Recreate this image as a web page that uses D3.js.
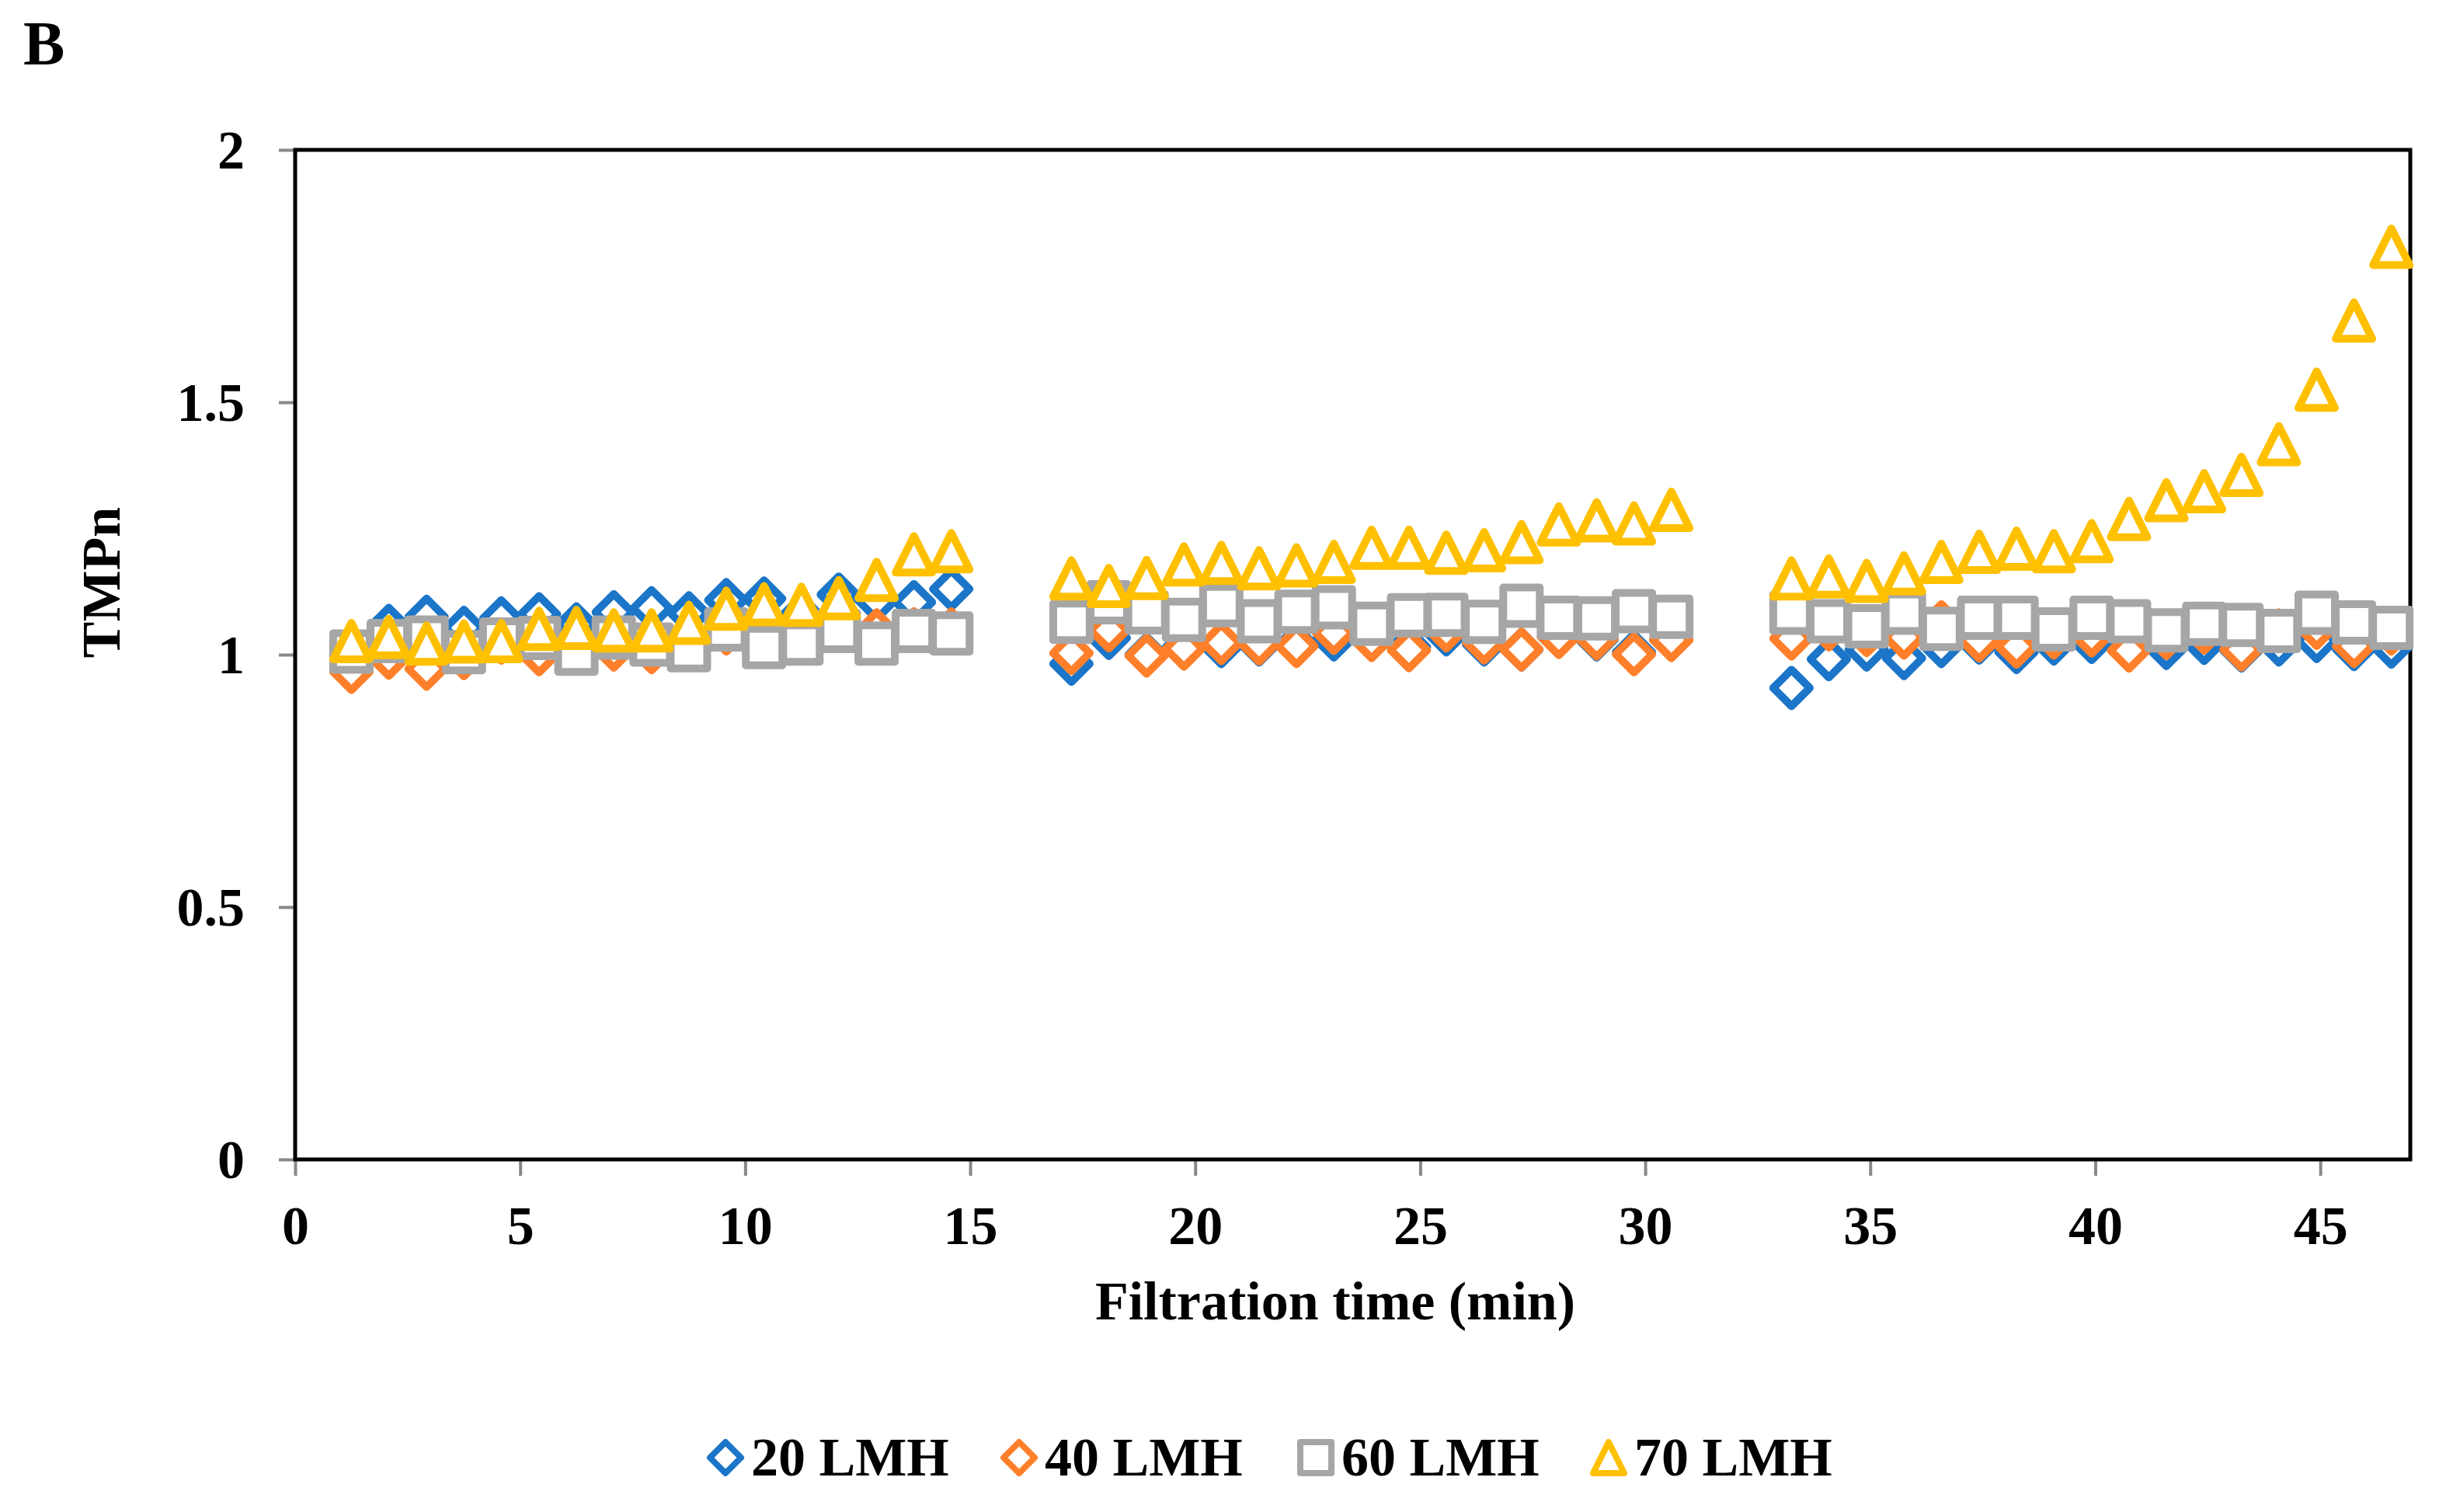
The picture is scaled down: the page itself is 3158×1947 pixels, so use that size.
<!DOCTYPE html>
<html>
<head>
<meta charset="utf-8">
<script src="https://cdn.jsdelivr.net/npm/d3@7"></script>
<style>
  html, body { margin: 0; padding: 0; background: #fff; }
  svg text { font-family: "Liberation Serif", "Times New Roman", serif; font-weight: bold; fill: #000; }
</style>
</head>
<body>
<div id="chart"></div>
<script>
// Filtration time (min) - same sampling for every flux
const timeMin = [
  1.25, 2.08, 2.92, 3.75, 4.58, 5.42, 6.25, 7.08, 7.92, 8.75, 9.58, 10.42, 11.25, 12.08, 12.92, 13.75, 14.58,
  17.25, 18.08, 18.92, 19.75, 20.58, 21.42, 22.25, 23.08, 23.92, 24.75, 25.58, 26.42, 27.25, 28.08, 28.92, 29.75, 30.58,
  33.25, 34.08, 34.92, 35.75, 36.58, 37.42, 38.25, 39.08, 39.92, 40.75, 41.58, 42.42, 43.25, 44.08, 44.92, 45.75, 46.58
];

// TMPn per flux
const tmp20 = [
  1.00, 1.057, 1.075, 1.053, 1.072, 1.080, 1.060, 1.084, 1.092, 1.082, 1.108, 1.111, 1.080, 1.119, 1.107, 1.104, 1.130,
  0.982, 1.033, 1.00, 1.015, 1.017, 1.02, 1.02, 1.03, 1.03, 1.015, 1.04, 1.02, 1.01, 1.07, 1.03, 1.005, 1.03,
  0.934, 0.991, 1.010, 0.993, 1.017, 1.024, 1.005, 1.022, 1.025, 1.02, 1.013, 1.023, 1.008, 1.020, 1.027, 1.011, 1.016
];
const tmp40 = [
  0.966, 0.994, 0.972, 0.993, 1.024, 1.001, 1.02, 1.01, 1.005, 1.03, 1.042, 1.02, 1.03, 1.05, 1.048, 1.050, 1.050,
  1.003, 1.048, 0.998, 1.012, 1.023, 1.022, 1.017, 1.043, 1.029, 1.009, 1.048, 1.024, 1.010, 1.035, 1.032, 1.001, 1.029,
  1.032, 1.05, 1.039, 1.034, 1.064, 1.028, 1.016, 1.034, 1.038, 1.008, 1.033, 1.044, 1.010, 1.048, 1.053, 1.017, 1.042
];
const tmp60 = [
  1.006, 1.027, 1.034, 1.005, 1.030, 1.033, 1.002, 1.034, 1.020, 1.009, 1.050, 1.015, 1.022, 1.047, 1.022, 1.047, 1.042,
  1.065, 1.104, 1.084, 1.069, 1.098, 1.066, 1.085, 1.094, 1.061, 1.078, 1.079, 1.065, 1.097, 1.073, 1.072, 1.086, 1.075,
  1.083, 1.066, 1.056, 1.083, 1.051, 1.073, 1.073, 1.050, 1.073, 1.066, 1.048, 1.061, 1.059, 1.047, 1.083, 1.064, 1.053
];
const tmp70 = [
  1.027, 1.035, 1.022, 1.026, 1.027, 1.051, 1.053, 1.048, 1.048, 1.063, 1.091, 1.100, 1.099, 1.112, 1.148, 1.199, 1.205,
  1.151, 1.136, 1.152, 1.179, 1.182, 1.171, 1.177, 1.184, 1.212, 1.212, 1.202, 1.207, 1.223, 1.258, 1.266, 1.260, 1.287,
  1.151, 1.155, 1.146, 1.161, 1.184, 1.204, 1.210, 1.205, 1.225, 1.269, 1.306, 1.324, 1.356, 1.417, 1.525, 1.662, 1.808
];

const seriesNames = ["20 LMH", "40 LMH", "60 LMH", "70 LMH"];
const xTicks = [0, 5, 10, 15, 20, 25, 30, 35, 40, 45];
const yTicks = [0, 0.5, 1, 1.5, 2];

const W = 3158, H = 1947;
const margin = { left: 380, right: W - 3103, top: 193, bottom: H - 1493 };
const FONT = 70;

const svg = d3.select("#chart").append("svg")
  .attr("width", W)
  .attr("height", H)
  .attr("viewBox", `0 0 ${W} ${H}`);

const x = d3.scaleLinear().domain([0, 47]).range([margin.left, W - margin.right]);
const y = d3.scaleLinear().domain([0, 2]).range([H - margin.bottom, margin.top]);

// marker shapes, centred on their bounding box (Excel style)
const shapes = {
  diamond: h => `M0,${-h}L${h},0L0,${h}L${-h},0Z`,
  square: h => `M${-h},${-h}H${h}V${h}H${-h}Z`,
  triangle: h => `M0,${-h}L${h},${h}H${-h}Z`
};

const series = [
  { name: seriesNames[0], values: tmp20, color: "#1B75C8", shape: "diamond" },
  { name: seriesNames[1], values: tmp40, color: "#FF7F2A", shape: "diamond" },
  { name: seriesNames[2], values: tmp60, color: "#A6A6A6", shape: "square" },
  { name: seriesNames[3], values: tmp70, color: "#FFC000", shape: "triangle" }
];

// Axes
const xAxis = d3.axisBottom(x).tickValues(xTicks).tickSize(21).tickSizeOuter(0).tickPadding(38);
const yAxis = d3.axisLeft(y).tickValues(yTicks).tickSize(21).tickSizeOuter(0).tickPadding(44)
  .tickFormat(d3.format("~g"));

const gx = svg.append("g").attr("transform", `translate(0,${H - margin.bottom})`).call(xAxis);
const gy = svg.append("g").attr("transform", `translate(${margin.left},0)`).call(yAxis);

[gx, gy].forEach(g => {
  g.select(".domain").remove();
  g.selectAll(".tick line").attr("stroke", "#888").attr("stroke-width", 4);
  g.selectAll(".tick text")
    .attr("fill", "#000")
    .style("font-size", FONT + "px")
    .style("font-family", "'Liberation Serif', 'Times New Roman', serif")
    .style("font-weight", "bold");
});
gx.selectAll(".tick text").attr("dy", "0.71em");
gy.selectAll(".tick text").attr("dy", "0.34em");

// Plot area border
svg.append("rect")
  .attr("x", margin.left)
  .attr("y", margin.top)
  .attr("width", W - margin.left - margin.right)
  .attr("height", H - margin.top - margin.bottom)
  .attr("fill", "none")
  .attr("stroke", "#000")
  .attr("stroke-width", 5);

// Markers
const R = 23.5;
series.forEach(s => {
  svg.append("g")
    .selectAll("path")
    .data(s.values.map((v, i) => ({ t: timeMin[i], v })))
    .enter()
    .append("path")
    .attr("transform", d => `translate(${x(d.t)},${y(d.v)})`)
    .attr("d", shapes[s.shape](R))
    .attr("fill", "#fff")
    .attr("stroke", s.color)
    .attr("stroke-width", 10)
    .attr("stroke-linejoin", "round");
});

// Titles
svg.append("text")
  .attr("x", 30).attr("y", 83)
  .style("font-size", "80px")
  .text("B");

svg.append("text")
  .attr("x", 1719).attr("y", 1699)
  .attr("text-anchor", "middle")
  .style("font-size", FONT + "px")
  .text("Filtration time (min)");

svg.append("text")
  .attr("transform", "translate(154,750) rotate(-90)")
  .attr("text-anchor", "middle")
  .style("font-size", FONT + "px")
  .text("TMPn");

// Legend
const legendX = [934, 1312, 1694, 2071];
const legend = svg.append("g");
series.forEach((s, i) => {
  const g = legend.append("g").attr("transform", `translate(${legendX[i]},1877)`);
  g.append("path")
    .attr("d", shapes[s.shape](20))
    .attr("fill", "#fff")
    .attr("stroke", s.color)
    .attr("stroke-width", 8)
    .attr("stroke-linejoin", "round");
  g.append("text")
    .attr("x", 33).attr("y", 23)
    .style("font-size", FONT + "px")
    .text(s.name);
});
</script>
</body>
</html>
